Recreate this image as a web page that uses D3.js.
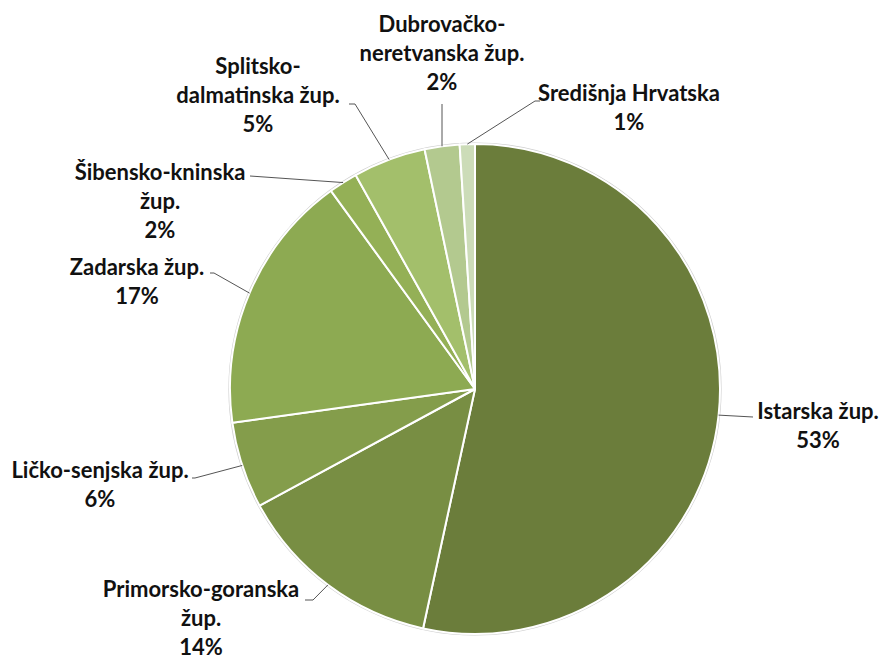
<!DOCTYPE html>
<html><head><meta charset="utf-8">
<script src="https://cdn.jsdelivr.net/npm/d3@7"></script>
<style>
html,body{margin:0;padding:0;background:#fff;}
text{font-family:Lato,"Open Sans",sans-serif;font-weight:bold;fill:#111;}
</style></head>
<body>
<svg id="chart" width="883" height="661"></svg>
<script>
// ---- data ----
const categories = ["Istarska žup.", "Primorsko-goranska žup.", "Ličko-senjska žup.", "Zadarska žup.",
  "Šibensko-kninska žup.", "Splitsko-dalmatinska žup.", "Dubrovačko-neretvanska žup.", "Središnja Hrvatska"];
const labelLines = [
  ["Istarska žup."],
  ["Primorsko-goranska", "žup."],
  ["Ličko-senjska žup."],
  ["Zadarska žup."],
  ["Šibensko-kninska", "žup."],
  ["Splitsko-", "dalmatinska žup."],
  ["Dubrovačko-", "neretvanska žup."],
  ["Središnja Hrvatska"]
];
const values = [53.4, 13.7, 5.7, 17.2, 1.9, 4.8, 2.3, 1.0];
const percentLabels = ["53%", "14%", "6%", "17%", "2%", "5%", "2%", "1%"];
const colors = ["#6b7d3b", "#788e43", "#849d4b", "#8daa52", "#94b056", "#a3bf6b", "#b3c98f", "#ccdcb8"];

// ---- layout (label placement, not data) ----
const cx = 475, cy = 389, R = 245;
const labelLayout = [
  {x: 818, y: 411, pts: [[753, 417]]},
  {x: 201, y: 589, pts: [[313, 600], [305, 600]]},
  {x: 100, y: 470, pts: [[195, 478], [192, 478]]},
  {x: 137, y: 267, pts: [[214, 273], [210, 273]]},
  {x: 160, y: 172, pts: [[250, 176]]},
  {x: 258, y: 66,  pts: [[355, 104], [349, 104]]},
  {x: 442, y: 24,  pts: [[442, 104]]},
  {x: 629, y: 93,  pts: [[535, 101], [540, 101]]}
];
const lineH = 29;

const svg = d3.select("#chart");
const g = svg.append("g").attr("transform", `translate(${cx},${cy})`);

const pie = d3.pie().sort(null).value(d => d)(values);
const arc = d3.arc().innerRadius(0).outerRadius(R);
const rim = d3.arc().innerRadius(R).outerRadius(R);

// subtle outer outline
g.append("circle").attr("r", R + 0.8).attr("fill", "none").attr("stroke", "#cfcfcf").attr("stroke-width", 1.6);

g.selectAll("path.slice").data(pie).join("path")
  .attr("class", "slice")
  .attr("d", arc)
  .attr("fill", (d, i) => colors[i])
  .attr("stroke", "#fff")
  .attr("stroke-width", 2)
  .attr("stroke-linejoin", "round");

// leader lines
const line = d3.line();
pie.forEach((d, i) => {
  const c = rim.centroid(d);
  const start = [cx + c[0], cy + c[1]];
  svg.append("path")
    .attr("d", line([start, ...labelLayout[i].pts]))
    .attr("fill", "none")
    .attr("stroke", "#555")
    .attr("stroke-width", 1);
});

// labels
pie.forEach((d, i) => {
  const L = labelLayout[i];
  const lines = [...labelLines[i], percentLabels[i]];
  const t = svg.append("text")
    .attr("text-anchor", "middle")
    .attr("font-size", 22);
  lines.forEach((s, k) => {
    t.append("tspan").attr("x", L.x).attr("y", L.y + k * lineH).attr("dy", "0.35em").text(s);
  });
});
</script>
</body></html>
